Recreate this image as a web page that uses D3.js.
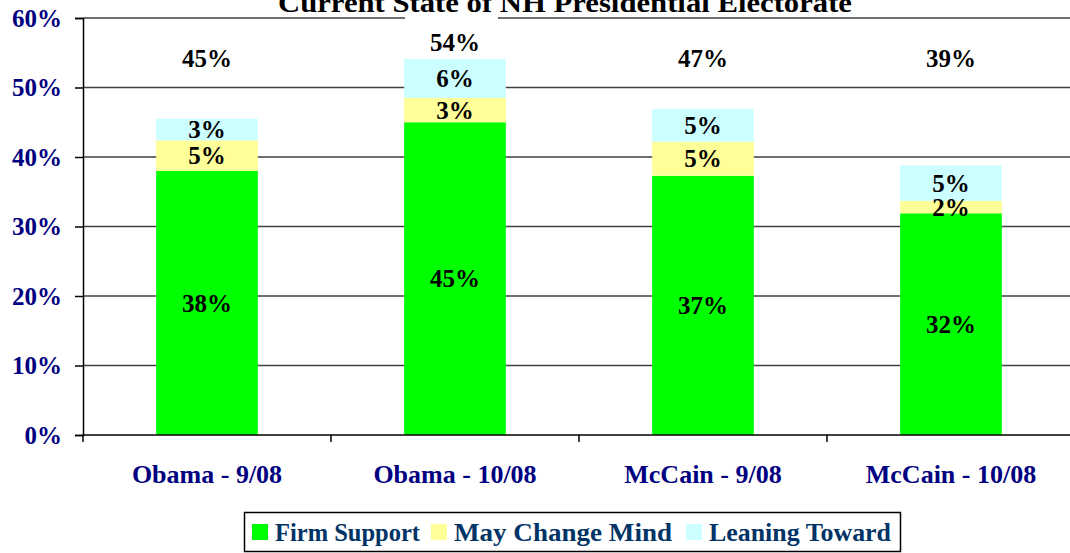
<!DOCTYPE html>
<html>
<head>
<meta charset="utf-8">
<script src="https://cdn.jsdelivr.net/npm/d3@7"></script>
<style>
  html, body { margin: 0; padding: 0; background: #fff; }
  svg { display: block; }
</style>
</head>
<body>
<svg id="chart" width="1070" height="553"></svg>
<script>
// data
const categories = ["Obama - 9/08", "Obama - 10/08", "McCain - 9/08", "McCain - 10/08"];
const seriesNames = ["Firm Support", "May Change Mind", "Leaning Toward"];
const firmSupport = [38, 45, 37.3, 31.9];
const mayChange = [4.4, 3.5, 4.9, 1.8];
const leaning = [3.1, 5.6, 4.7, 5.1];
// printed labels (rounded in the source)
const firmLabels = ["38%", "45%", "37%", "32%"];
const mayLabels = ["5%", "3%", "5%", "2%"];
const leanLabels = ["3%", "6%", "5%", "5%"];
const totalLabels = ["45%", "54%", "47%", "39%"];
const yTicks = [0, 10, 20, 30, 40, 50, 60];

const colors = ["#00ff00", "#ffff99", "#ccffff"];
const serif = "'Liberation Serif', 'Times New Roman', serif";

const svg = d3.select("#chart");
const plotLeft = 83, plotTop = 18, plotBottom = 435, step = 248;

const rows = categories.map((c, i) => ({
  cat: c,
  "Firm Support": firmSupport[i],
  "May Change Mind": mayChange[i],
  "Leaning Toward": leaning[i]
}));
const labels = [firmLabels, mayLabels, leanLabels];

const x = d3.scaleBand()
  .domain(categories)
  .range([plotLeft, plotLeft + step * categories.length])
  .paddingInner(0.59)
  .paddingOuter(0.295);

const y = d3.scaleLinear().domain([0, 60]).range([plotBottom, plotTop]);

// gridlines
svg.append("g")
  .selectAll("line")
  .data(yTicks.filter(d => d > 0))
  .join("line")
  .attr("x1", plotLeft)
  .attr("x2", 1070)
  .attr("y1", d => y(d))
  .attr("y2", d => y(d))
  .attr("stroke", "#404040")
  .attr("stroke-width", 1.5);

// title (cut off at top like the original)
svg.append("text")
  .attr("x", 565)
  .attr("y", 12)
  .attr("text-anchor", "middle")
  .attr("font-family", serif)
  .attr("font-weight", "bold")
  .attr("font-size", "27px")
  .attr("textLength", 574)
  .attr("lengthAdjust", "spacingAndGlyphs")
  .attr("fill", "#000")
  .text("Current State of NH Presidential Electorate");

// stacked bars
const stacked = d3.stack().keys(seriesNames)(rows);

const layers = svg.append("g")
  .selectAll("g")
  .data(stacked)
  .join("g")
  .attr("fill", (d, i) => colors[i]);

layers.selectAll("rect")
  .data(d => d)
  .join("rect")
  .attr("x", d => x(d.data.cat))
  .attr("y", d => y(d[1]))
  .attr("width", x.bandwidth())
  .attr("height", d => y(d[0]) - y(d[1]));

// total labels with a white box behind them
const totals = rows.map((r, i) => ({
  cat: r.cat,
  barTop: y(firmSupport[i] + mayChange[i] + leaning[i]),
  label: totalLabels[i]
}));
const totalG = svg.append("g")
  .selectAll("g")
  .data(totals)
  .join("g")
  .attr("transform", d => `translate(${x(d.cat) + x.bandwidth() / 2},${Math.min(58, d.barTop - 17)})`);

totalG.append("rect")
  .attr("x", -50)
  .attr("y", -25)
  .attr("width", 93)
  .attr("height", 42)
  .attr("fill", "#fff");

totalG.append("text")
  .attr("dy", "0.35em")
  .attr("text-anchor", "middle")
  .attr("font-family", serif)
  .attr("font-weight", "bold")
  .attr("font-size", "25px")
  .attr("fill", "#000")
  .text(d => d.label);

// segment labels
stacked.forEach((layer, si) => {
  svg.append("g")
    .selectAll("text")
    .data(layer)
    .join("text")
    .attr("x", d => x(d.data.cat) + x.bandwidth() / 2)
    .attr("y", d => (y(d[0]) + y(d[1])) / 2)
    .attr("dy", "0.35em")
    .attr("text-anchor", "middle")
    .attr("font-family", serif)
    .attr("font-weight", "bold")
    .attr("font-size", "25px")
    .attr("fill", "#000")
    .text((d, i) => labels[si][i]);
});

// y axis
const yAxis = svg.append("g")
  .attr("transform", `translate(${plotLeft},0)`)
  .call(d3.axisLeft(y).tickValues(yTicks).tickFormat(d => d + "%").tickSize(8).tickPadding(13));
yAxis.select(".domain").attr("stroke", "#000").attr("stroke-width", 1.5);
yAxis.selectAll(".tick line").attr("stroke", "#000").attr("stroke-width", 1.5);
yAxis.selectAll(".tick text")
  .attr("font-family", serif)
  .attr("font-weight", "bold")
  .attr("font-size", "25px")
  .attr("fill", "#000080");

// x axis
svg.append("line")
  .attr("x1", plotLeft).attr("x2", 1070)
  .attr("y1", plotBottom).attr("y2", plotBottom)
  .attr("stroke", "#000").attr("stroke-width", 1.5);

svg.append("g")
  .selectAll("line")
  .data(categories)
  .join("line")
  .attr("x1", d => x(d) - x.step() * x.paddingInner() / 2)
  .attr("x2", d => x(d) - x.step() * x.paddingInner() / 2)
  .attr("y1", plotBottom)
  .attr("y2", plotBottom + 7)
  .attr("stroke", "#000")
  .attr("stroke-width", 1.5);

svg.append("g")
  .selectAll("text")
  .data(categories)
  .join("text")
  .attr("x", d => x(d) + x.bandwidth() / 2)
  .attr("y", 483)
  .attr("text-anchor", "middle")
  .attr("font-family", serif)
  .attr("font-weight", "bold")
  .attr("font-size", "26px")
  .attr("fill", "#000080")
  .text(d => d);

// legend
const legend = svg.append("g");
legend.append("rect")
  .attr("x", 244.5).attr("y", 512.5)
  .attr("width", 656).attr("height", 39)
  .attr("fill", "#fff")
  .attr("stroke", "#000")
  .attr("stroke-width", 1.5);

const legendX = [252, 431, 686];
const legendTextWidth = [145, 218, 182];
const items = legend.selectAll("g.item")
  .data(seriesNames)
  .join("g")
  .attr("class", "item")
  .attr("transform", (d, i) => `translate(${legendX[i]},532)`);

items.append("rect")
  .attr("x", 0).attr("y", -8)
  .attr("width", 16).attr("height", 16)
  .attr("fill", (d, i) => colors[i]);

items.append("text")
  .attr("x", 23)
  .attr("dy", "0.35em")
  .attr("font-family", serif)
  .attr("font-weight", "bold")
  .attr("font-size", "25px")
  .attr("textLength", (d, i) => legendTextWidth[i])
  .attr("lengthAdjust", "spacingAndGlyphs")
  .attr("fill", "#003366")
  .text(d => d);
</script>
</body>
</html>
